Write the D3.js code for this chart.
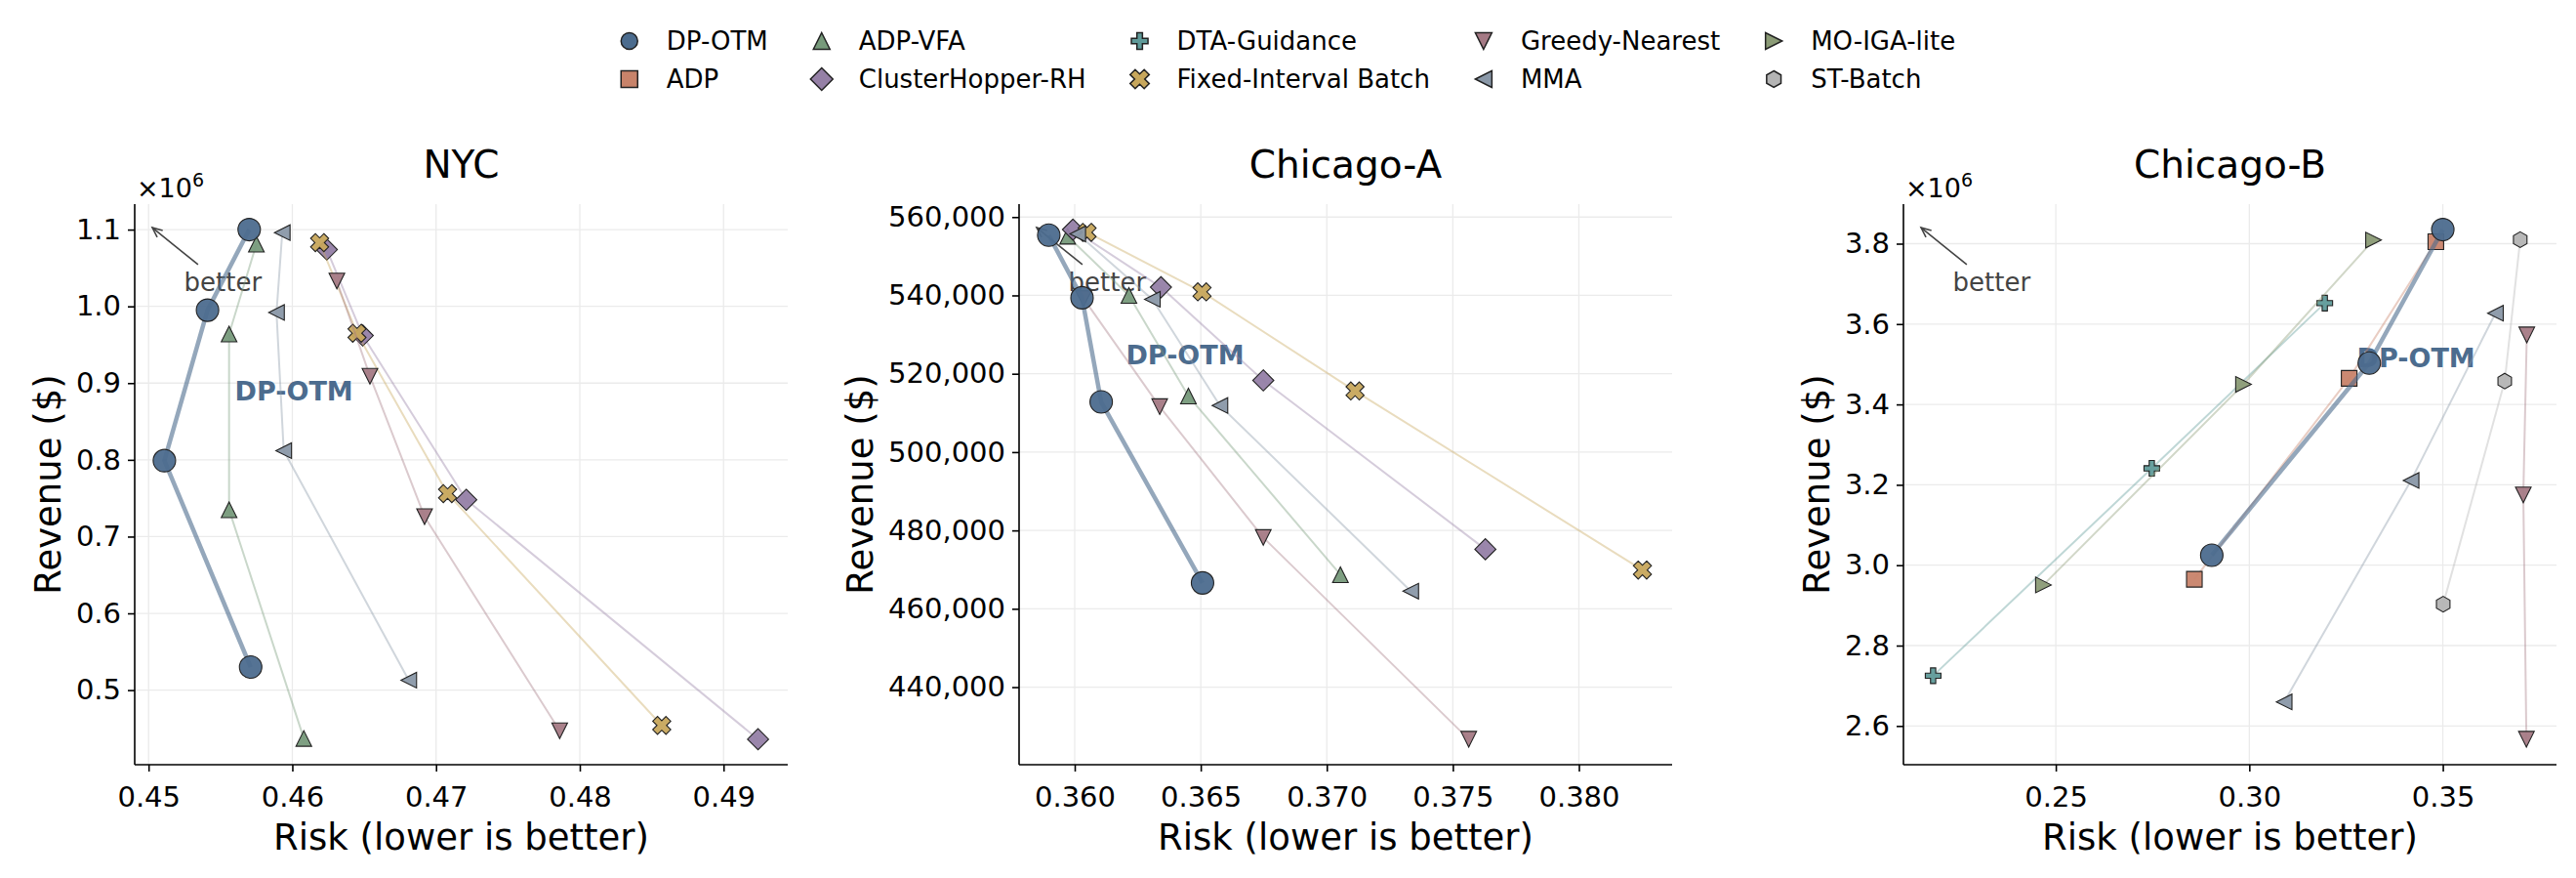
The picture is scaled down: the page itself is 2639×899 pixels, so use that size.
<!DOCTYPE html>
<html>
<head>
<meta charset="utf-8">
<script src="https://cdn.jsdelivr.net/npm/d3@7"></script>
<style>
  body { margin: 0; background: #fff; }
  svg text { font-family: "DejaVu Sans", sans-serif; }
</style>
</head>
<body>
<div id="chart"></div>
<script>
// ---- data ----
const methods = ['DP-OTM', 'ADP', 'ADP-VFA', 'ClusterHopper-RH', 'DTA-Guidance',
  'Fixed-Interval Batch', 'Greedy-Nearest', 'MMA', 'MO-IGA-lite', 'ST-Batch'];
const methodColors = ['#4c6c8e', '#c8836a', '#779a7b', '#9580a6', '#5f9a99',
  '#c7a75c', '#a57a85', '#8a98a8', '#8b9b76', '#b4b4b4'];
const methodMarkers = ['circle', 'square', 'triangleUp', 'diamond', 'plus',
  'cross', 'triangleDown', 'triangleLeft', 'triangleRight', 'hexagon'];

const nycRisk = {
  'DP-OTM': [0.4570, 0.4541, 0.4511, 0.4571],
  'ADP-VFA': [0.4575, 0.4556, 0.4556, 0.4608],
  'ClusterHopper-RH': [0.4624, 0.4649, 0.4721, 0.4924],
  'Fixed-Interval Batch': [0.4619, 0.4645, 0.4708, 0.4857],
  'Greedy-Nearest': [0.4631, 0.4654, 0.4692, 0.4786],
  'MMA': [0.4593, 0.4589, 0.4594, 0.4681],
};
const nycRevenue = {
  'DP-OTM': [1100000, 995000, 799000, 530000],
  'ADP-VFA': [1081000, 964000, 735000, 437000],
  'ClusterHopper-RH': [1074000, 962000, 748000, 436000],
  'Fixed-Interval Batch': [1083000, 965000, 756000, 454000],
  'Greedy-Nearest': [1033000, 909000, 726000, 447000],
  'MMA': [1096000, 992000, 812000, 513000],
};
const nycXTicks = [0.45, 0.46, 0.47, 0.48, 0.49];
const nycYTicks = [500000, 600000, 700000, 800000, 900000, 1000000, 1100000];

const chiARisk = {
  'DP-OTM': [0.35897, 0.36029, 0.36105, 0.36507],
  'ADP-VFA': [0.35972, 0.36215, 0.36451, 0.37054],
  'ClusterHopper-RH': [0.35993, 0.36342, 0.36748, 0.37629],
  'Fixed-Interval Batch': [0.36049, 0.36505, 0.37112, 0.38252],
  'Greedy-Nearest': [0.36035, 0.36337, 0.36748, 0.37563],
  'MMA': [0.36012, 0.36308, 0.36576, 0.37333],
};
const chiARevenue = {
  'DP-OTM': [555400, 539400, 512800, 466600],
  'ADP-VFA': [555100, 540000, 514300, 468700],
  'ClusterHopper-RH': [556800, 542100, 518300, 475200],
  'Fixed-Interval Batch': [556100, 540900, 515600, 469900],
  'Greedy-Nearest': [539200, 511600, 478200, 426700],
  'MMA': [555700, 539000, 511900, 464500],
};
const chiAXTicks = [0.360, 0.365, 0.370, 0.375, 0.380];
const chiAYTicks = [440000, 460000, 480000, 500000, 520000, 540000, 560000];

const chiBRisk = {
  'DP-OTM': [0.3500, 0.3310, 0.2903],
  'ADP': [0.3482, 0.3258, 0.2858],
  'DTA-Guidance': [0.3195, 0.2748, 0.2183],
  'Greedy-Nearest': [0.3717, 0.3708, 0.3716],
  'MMA': [0.3636, 0.3418, 0.3090],
  'MO-IGA-lite': [0.3321, 0.2985, 0.2468],
  'ST-Batch': [0.3700, 0.3660, 0.3501],
};
const chiBRevenue = {
  'DP-OTM': [3835000, 3503000, 3025000],
  'ADP': [3805000, 3465000, 2965000],
  'DTA-Guidance': [3652000, 3241000, 2725000],
  'Greedy-Nearest': [3573000, 3175000, 2567000],
  'MMA': [3627000, 3211000, 2660000],
  'MO-IGA-lite': [3809000, 3450000, 2951000],
  'ST-Batch': [3810000, 3458000, 2903000],
};
const chiBXTicks = [0.25, 0.30, 0.35];
const chiBYTicks = [2600000, 2800000, 3000000, 3200000, 3400000, 3600000, 3800000];

const panelTitles = ['NYC', 'Chicago-A', 'Chicago-B'];
// where the bold "DP-OTM" tag sits, in data units
const tagPositions = [[0.4560, 889000], [0.36203, 524800], [0.3278, 3515000]];

// ---- layout ----
const W = 2639;
const H = 899;
const axTop = 209;
const axBottom = 783;
const axWidth = 669;
const axLefts = [138, 1044, 1950];
const fmtMillions = d => (d / 1e6).toFixed(1);

const panels = [
  { title: panelTitles[0], risk: nycRisk, revenue: nycRevenue, xTicks: nycXTicks,
    yTicks: nycYTicks, xFmt: d3.format('.2f'), yFmt: fmtMillions, offset: true, tag: tagPositions[0] },
  { title: panelTitles[1], risk: chiARisk, revenue: chiARevenue, xTicks: chiAXTicks,
    yTicks: chiAYTicks, xFmt: d3.format('.3f'), yFmt: d3.format(','), offset: false, tag: tagPositions[1] },
  { title: panelTitles[2], risk: chiBRisk, revenue: chiBRevenue, xTicks: chiBXTicks,
    yTicks: chiBYTicks, xFmt: d3.format('.2f'), yFmt: fmtMillions, offset: true, tag: tagPositions[2] },
];

function polygon(pts) {
  return 'M' + pts.map(p => p[0].toFixed(2) + ',' + p[1].toFixed(2)).join('L') + 'Z';
}

function markerPath(type, s) {
  const h = s / 2;
  switch (type) {
    case 'circle': return d3.symbol(d3.symbolCircle, Math.PI * h * h)();
    case 'square': return polygon([[-h, -h], [h, -h], [h, h], [-h, h]]);
    case 'triangleUp': return polygon([[0, -h], [h, h], [-h, h]]);
    case 'triangleDown': return polygon([[0, h], [h, -h], [-h, -h]]);
    case 'triangleLeft': return polygon([[-h, 0], [h, -h], [h, h]]);
    case 'triangleRight': return polygon([[h, 0], [-h, -h], [-h, h]]);
    case 'diamond': {
      const d = h * 1.35;
      return polygon([[0, -d], [d, 0], [0, d], [-d, 0]]);
    }
    case 'plus': {
      const a = s / 6;
      return polygon([[-a, -h], [a, -h], [a, -a], [h, -a], [h, a], [a, a], [a, h],
        [-a, h], [-a, a], [-h, a], [-h, -a], [-a, -a]]);
    }
    case 'cross': {
      const L = h * 1.2;
      const a = L * 0.36;
      const base = [[-a, -L], [a, -L], [a, -a], [L, -a], [L, a], [a, a], [a, L],
        [-a, L], [-a, a], [-L, a], [-L, -a], [-a, -a]];
      const c = Math.SQRT1_2;
      return polygon(base.map(p => [c * (p[0] - p[1]), c * (p[0] + p[1])]));
    }
    case 'hexagon': {
      const pts = d3.range(6).map(k => {
        const ang = -Math.PI / 2 + k * Math.PI / 3;
        return [h * Math.cos(ang), h * Math.sin(ang)];
      });
      return polygon(pts);
    }
    default: return '';
  }
}

const svg = d3.select('#chart').append('svg')
  .attr('width', W)
  .attr('height', H);

panels.forEach((p, i) => {
  const left = axLefts[i];
  const present = methods.filter(m => p.risk[m]);
  const allX = [];
  const allY = [];
  present.forEach((m) => { allX.push(...p.risk[m]); allY.push(...p.revenue[m]); });
  const padded = (ext) => { const d = (ext[1] - ext[0]) * 0.05; return [ext[0] - d, ext[1] + d]; };

  const x = d3.scaleLinear().domain(padded(d3.extent(allX))).range([left, left + axWidth]);
  const y = d3.scaleLinear().domain(padded(d3.extent(allY))).range([axBottom, axTop]);

  const g = svg.append('g');

  // grid
  const grid = g.append('g').attr('stroke', '#ebebeb').attr('stroke-width', 1.3);
  grid.selectAll('.gx').data(p.xTicks).enter().append('line')
    .attr('x1', d => x(d)).attr('x2', d => x(d))
    .attr('y1', axTop).attr('y2', axBottom);
  grid.selectAll('.gy').data(p.yTicks).enter().append('line')
    .attr('x1', left).attr('x2', left + axWidth)
    .attr('y1', d => y(d)).attr('y2', d => y(d));

  // axes
  const xAxis = g.append('g')
    .attr('transform', `translate(0,${axBottom})`)
    .call(d3.axisBottom(x).tickValues(p.xTicks).tickFormat(p.xFmt)
      .tickSize(7).tickPadding(15).tickSizeOuter(0));
  const yAxis = g.append('g')
    .attr('transform', `translate(${left},0)`)
    .call(d3.axisLeft(y).tickValues(p.yTicks).tickFormat(p.yFmt)
      .tickSize(7).tickPadding(7).tickSizeOuter(0));
  [xAxis, yAxis].forEach((ax) => {
    ax.select('.domain').attr('stroke', '#000').attr('stroke-width', 1.6);
    ax.selectAll('.tick line').attr('stroke', '#000').attr('stroke-width', 1.6);
    ax.selectAll('.tick text').attr('fill', '#000').style('font-size', '29px');
  });
  xAxis.select('.domain').attr('d', `M${left},0H${left + axWidth}`);
  yAxis.select('.domain').attr('d', `M0,${axTop}V${axBottom}`);

  // labels
  g.append('text')
    .attr('x', left + axWidth / 2).attr('y', 182)
    .attr('text-anchor', 'middle')
    .style('font-size', '39px')
    .text(p.title);
  g.append('text')
    .attr('x', left + axWidth / 2).attr('y', 870)
    .attr('text-anchor', 'middle')
    .style('font-size', '37px')
    .text('Risk (lower is better)');
  const bb = yAxis.node().getBBox();
  g.append('text')
    .attr('transform', `translate(${left + bb.x - 16},${(axTop + axBottom) / 2}) rotate(-90)`)
    .attr('text-anchor', 'middle')
    .style('font-size', '37px')
    .text('Revenue ($)');

  if (p.offset) {
    const off = g.append('text')
      .attr('x', left + 2).attr('y', 202)
      .style('font-size', '27px');
    off.append('tspan').text('×10');
    off.append('tspan').attr('dy', -11).style('font-size', '19px').text('6');
  }

  // "better" arrow
  const fx = f => left + f * axWidth;
  const fy = f => axBottom - f * (axBottom - axTop);
  const head = [fx(0.027), fy(0.958)];
  const tail = [fx(0.097), fy(0.892)];
  const ang = Math.atan2(tail[1] - head[1], tail[0] - head[0]);
  const hl = 11;
  const ha = 0.42;
  const arrow = g.append('g').attr('stroke', '#444').attr('stroke-width', 1.6).attr('fill', 'none');
  arrow.append('line')
    .attr('x1', tail[0]).attr('y1', tail[1]).attr('x2', head[0]).attr('y2', head[1]);
  arrow.append('path')
    .attr('d', `M${head[0] + hl * Math.cos(ang - ha)},${head[1] + hl * Math.sin(ang - ha)}`
      + `L${head[0]},${head[1]}`
      + `L${head[0] + hl * Math.cos(ang + ha)},${head[1] + hl * Math.sin(ang + ha)}`);
  g.append('text')
    .attr('x', fx(0.135)).attr('y', fy(0.845))
    .attr('text-anchor', 'middle')
    .attr('fill', '#444')
    .style('font-size', '26px')
    .text('better');

  g.append('text')
    .attr('x', x(p.tag[0])).attr('y', y(p.tag[1]))
    .attr('dominant-baseline', 'central')
    .attr('fill', methodColors[0])
    .style('font-size', '27px')
    .style('font-weight', 'bold')
    .text('DP-OTM');

  // series: baselines first, DP-OTM on top
  const order = present.filter(m => m !== 'DP-OTM').concat(['DP-OTM']);
  order.forEach((m) => {
    const k = methods.indexOf(m);
    const pts = p.risk[m].map((r, j) => [r, p.revenue[m][j]]);
    const main = m === 'DP-OTM';
    g.append('path')
      .datum(pts)
      .attr('fill', 'none')
      .attr('stroke', methodColors[k])
      .attr('stroke-opacity', main ? 0.6 : 0.4)
      .attr('stroke-width', main ? 4.5 : 2)
      .attr('stroke-linejoin', 'round')
      .attr('d', d3.line().x(d => x(d[0])).y(d => y(d[1])));
    g.append('g').selectAll('path')
      .data(pts)
      .enter()
      .append('path')
      .attr('transform', d => `translate(${x(d[0])},${y(d[1])})`)
      .attr('d', markerPath(methodMarkers[k], main ? 23 : 16))
      .attr('fill', methodColors[k])
      .attr('fill-opacity', 0.95)
      .attr('stroke', '#222')
      .attr('stroke-width', 1.1);
  });
});

// ---- legend (5 columns, filled column by column) ----
const legend = svg.append('g');
const rowY = [42, 81];
const ncol = 5;
const measure = svg.append('text').style('font-size', '26px');
const colWidths = d3.range(ncol).map((c) => {
  const ws = [0, 1].map((r) => {
    measure.text(methods[c * 2 + r]);
    return measure.node().getComputedTextLength();
  });
  return d3.max(ws);
});
measure.remove();
const markerToText = 38;
const colGap = 55;
const totalW = d3.sum(colWidths) + ncol * markerToText + (ncol - 1) * colGap + 9;
let cx = W / 2 - totalW / 2 + 9;
d3.range(ncol).forEach((c) => {
  [0, 1].forEach((r) => {
    const k = c * 2 + r;
    legend.append('path')
      .attr('transform', `translate(${cx},${rowY[r]})`)
      .attr('d', markerPath(methodMarkers[k], 17))
      .attr('fill', methodColors[k])
      .attr('stroke', '#222')
      .attr('stroke-width', 1.5);
    legend.append('text')
      .attr('x', cx + markerToText).attr('y', rowY[r])
      .attr('dominant-baseline', 'central')
      .style('font-size', '26px')
      .text(methods[k]);
  });
  cx += markerToText + colWidths[c] + colGap;
});
</script>
</body>
</html>
